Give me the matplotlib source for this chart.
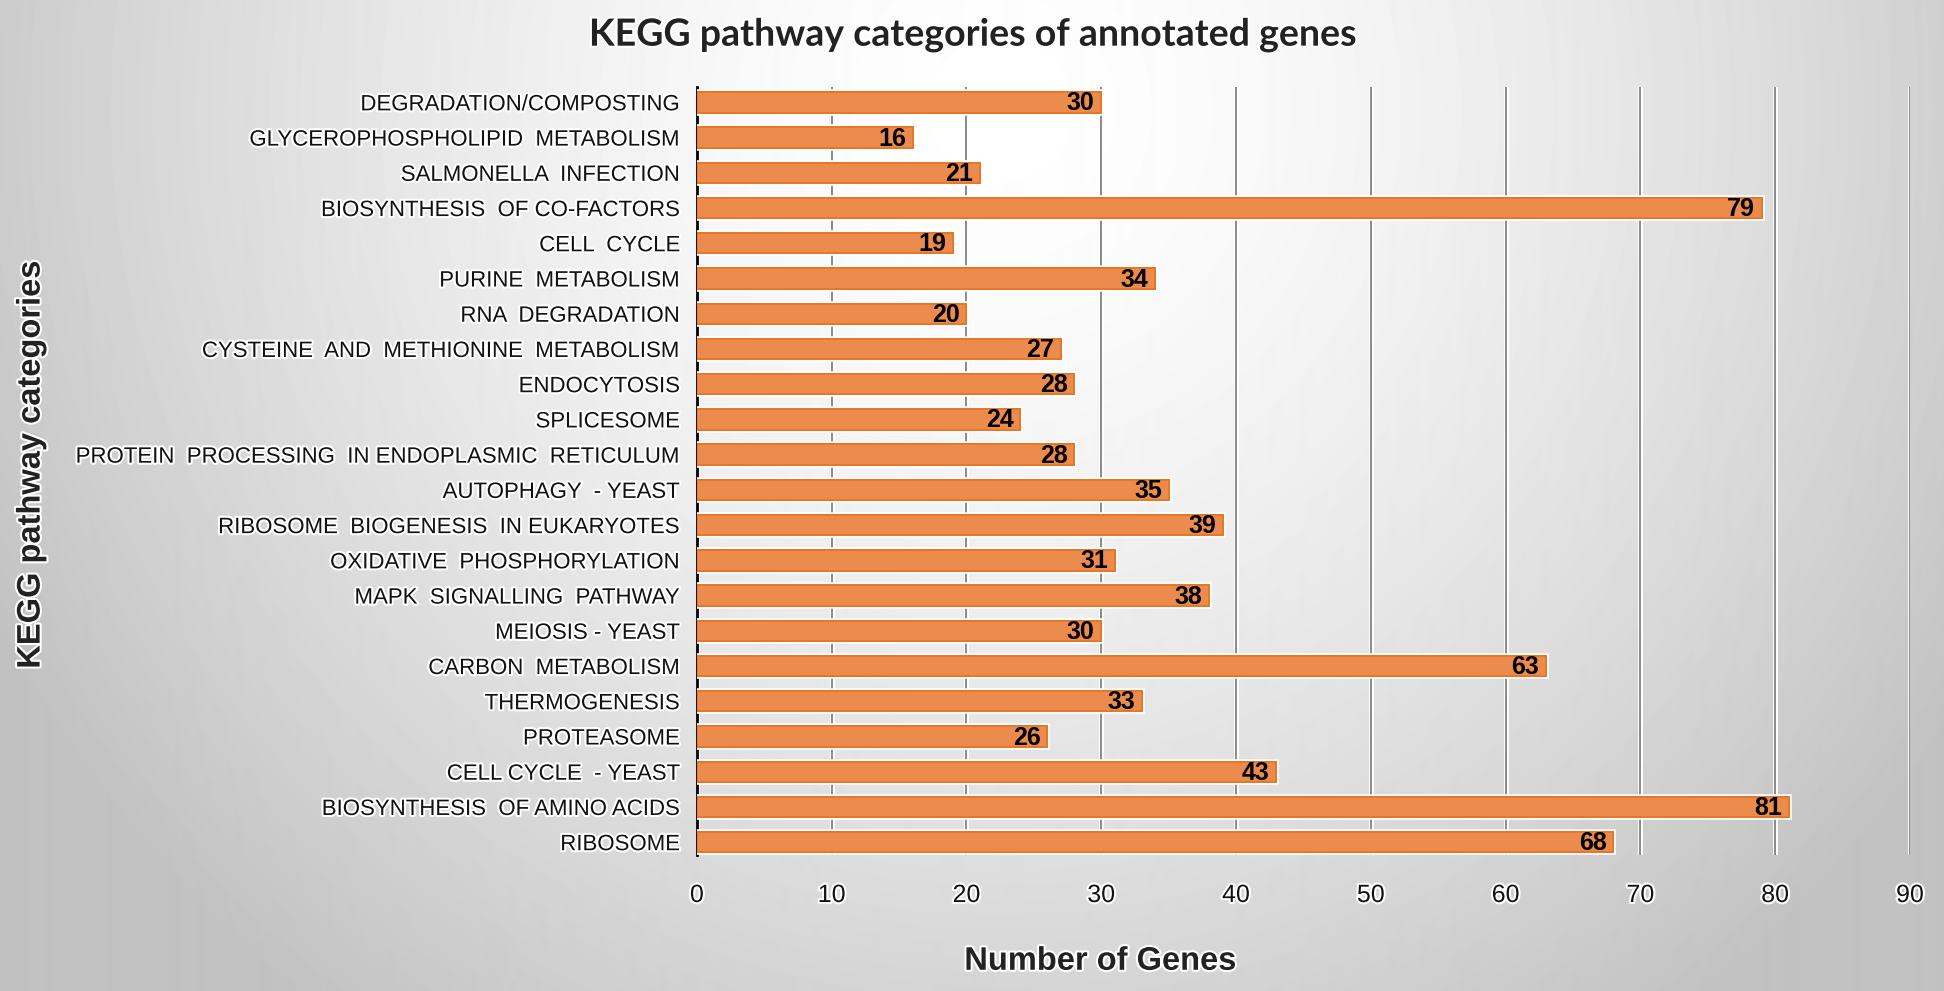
import numpy as np
import matplotlib
matplotlib.use("Agg")
import matplotlib.pyplot as plt
import matplotlib.patheffects as pe
from matplotlib import font_manager

# categories listed bottom to top
categories = [
    "RIBOSOME",
    "BIOSYNTHESIS  OF AMINO ACIDS",
    "CELL CYCLE  - YEAST",
    "PROTEASOME",
    "THERMOGENESIS",
    "CARBON  METABOLISM",
    "MEIOSIS - YEAST",
    "MAPK  SIGNALLING  PATHWAY",
    "OXIDATIVE  PHOSPHORYLATION",
    "RIBOSOME  BIOGENESIS  IN EUKARYOTES",
    "AUTOPHAGY  - YEAST",
    "PROTEIN  PROCESSING  IN ENDOPLASMIC  RETICULUM",
    "SPLICESOME",
    "ENDOCYTOSIS",
    "CYSTEINE  AND  METHIONINE  METABOLISM",
    "RNA  DEGRADATION",
    "PURINE  METABOLISM",
    "CELL  CYCLE",
    "BIOSYNTHESIS  OF CO-FACTORS",
    "SALMONELLA  INFECTION",
    "GLYCEROPHOSPHOLIPID  METABOLISM",
    "DEGRADATION/COMPOSTING",
]
gene_counts = [68, 81, 43, 26, 33, 63, 30, 38, 31, 39, 35, 28, 24, 28, 27, 20, 34, 19, 79, 21, 16, 30]
x_ticks = [0, 10, 20, 30, 40, 50, 60, 70, 80, 90]

installed = {f.name for f in font_manager.fontManager.ttflist}
narrow = "Liberation Sans Narrow" if "Liberation Sans Narrow" in installed else "Liberation Sans"
title_font = "Lato" if "Lato" in installed else "DejaVu Sans"

fig = plt.figure(figsize=(19.44, 9.91), dpi=100)

# radial grey background, brightest just above the plot centre
bg = fig.add_axes([0, 0, 1, 1], zorder=-10)
yy, xx = np.mgrid[0:991, 0:1944]
r = np.hypot(xx - 1000, yy - 110) / 1000
shade = np.clip(1.0 - 0.2 * r ** 1.5, 0.76, 1.0)
bg.imshow(shade, cmap="gray", vmin=0, vmax=1, aspect="auto", interpolation="bilinear")
bg.axis("off")

ax = fig.add_axes([0.3585, 0.137, 0.6240, 0.775])
ax.patch.set_alpha(0)

halo = [pe.withStroke(linewidth=3, foreground="white")]

y_pos = np.arange(len(categories))
bars = ax.barh(y_pos, gene_counts, height=0.58, color="#ec8b4e",
               edgecolor="#e8741f", linewidth=1.2, zorder=3)
for b in bars:
    b.set_path_effects([pe.withStroke(linewidth=4, foreground="white"), pe.Normal()])

for y, v in zip(y_pos, gene_counts):
    ax.text(v - 0.5, y - 0.03, str(v), ha="right", va="center", fontsize=18,
            fontweight="bold", family=narrow, color="black", zorder=4)

ax.set_xlim(0, 90)
ax.set_ylim(-0.37, len(categories) - 0.57)
ax.set_xticks(x_ticks)
ax.set_yticks(y_pos)
ax.set_yticklabels(categories, family=narrow, fontsize=16, color="#111111")
ax.set_xticklabels([str(t) for t in x_ticks], family=narrow, fontsize=18, color="#111111")
for lbl in ax.get_yticklabels() + ax.get_xticklabels():
    lbl.set_path_effects(halo)

ax.grid(axis="x", color="#8a8a8a", linewidth=1.2, zorder=1,
        path_effects=[pe.withStroke(linewidth=3.5, foreground="white"), pe.Normal()])
ax.set_axisbelow(True)
for side in ["top", "right", "bottom"]:
    ax.spines[side].set_visible(False)
ax.spines["left"].set_color("black")
ax.spines["left"].set_linewidth(2)
ax.tick_params(axis="y", length=0, pad=12)
ax.tick_params(axis="x", length=0, pad=20)

fig.text(0.5, 0.965, "KEGG pathway categories of annotated genes", ha="center",
         va="center", fontsize=27, fontweight="bold", family=title_font,
         color="#222222", path_effects=halo)
fig.text(0.566, 0.030, "Number of Genes", ha="center", va="center", fontsize=23.5,
         fontweight="bold", family=narrow, color="#222222", path_effects=halo)
fig.text(0.016, 0.531, "KEGG pathway categories", ha="center", va="center",
         rotation=90, fontsize=23.5, fontweight="bold", family=narrow,
         color="#222222", path_effects=halo)

fig.savefig("out.png", dpi=100)
